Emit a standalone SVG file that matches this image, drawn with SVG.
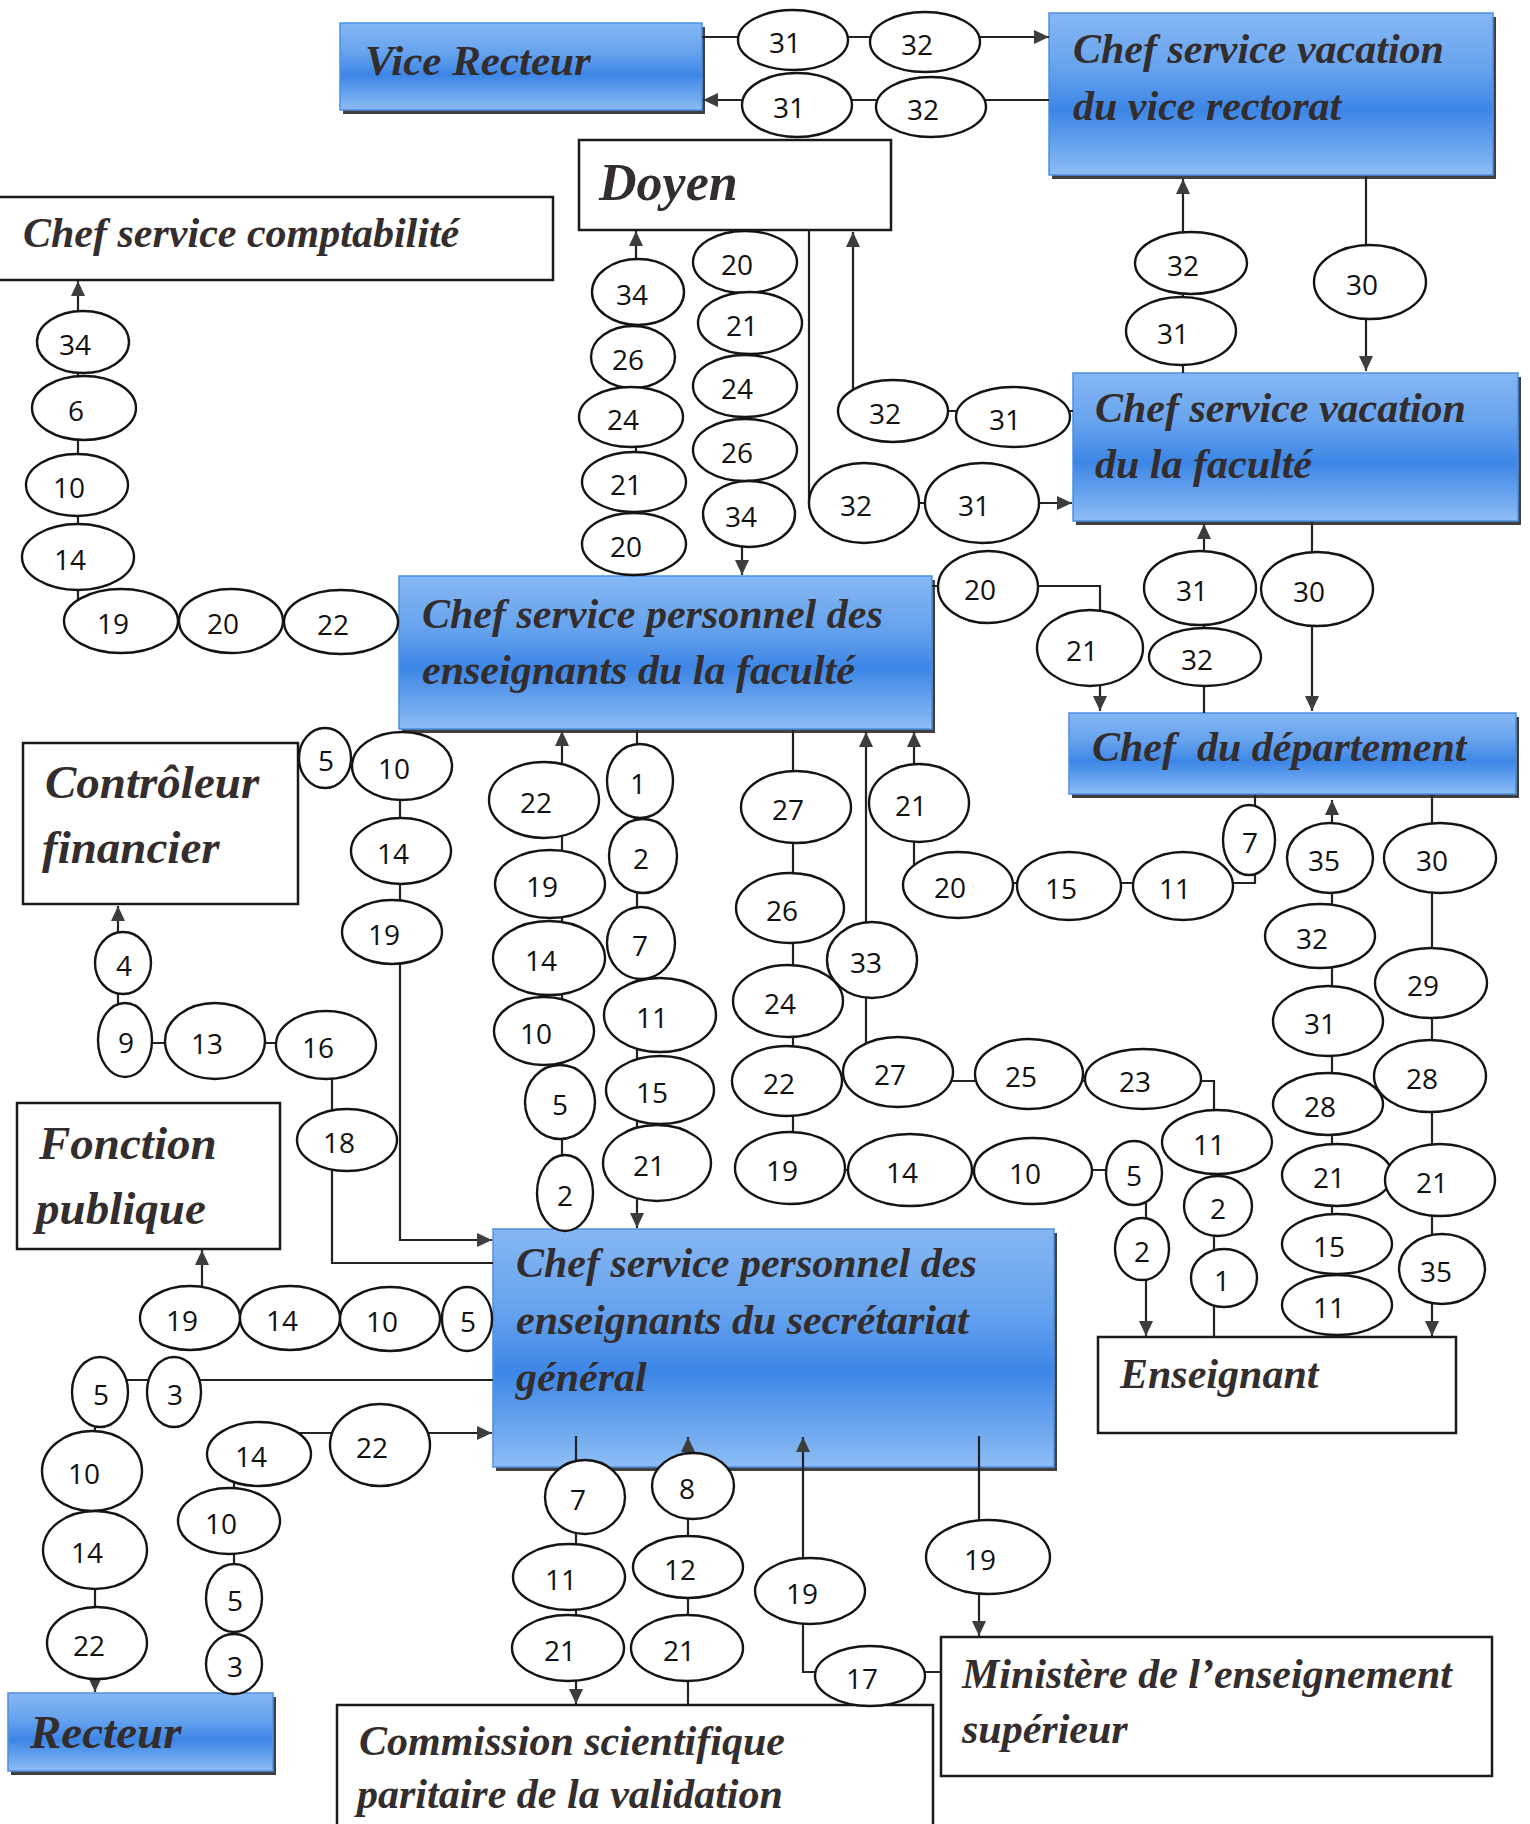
<svg xmlns="http://www.w3.org/2000/svg" width="1530" height="1824" viewBox="0 0 1530 1824">
<defs>
<linearGradient id="blue" x1="0" y1="0" x2="0" y2="1">
<stop offset="0" stop-color="#86b7f3"/>
<stop offset="0.35" stop-color="#65a2ee"/>
<stop offset="0.6" stop-color="#3d86e6"/>
<stop offset="0.85" stop-color="#6ea8ef"/>
<stop offset="1" stop-color="#8ebdf4"/>
</linearGradient>
<marker id="arr" markerUnits="userSpaceOnUse" markerWidth="16" markerHeight="16" refX="15" refY="7" orient="auto">
<path d="M0,0 L15,7 L0,14 z" fill="#3d3d3d"/>
</marker>
</defs>
<style>
.wb{fill:#fff;stroke:#1a1a1a;stroke-width:2.5}
.bb{fill:url(#blue);stroke:#4c8ee6;stroke-width:1.5}
.sh{fill:#404040}
.bt{font-family:"Liberation Serif","Times New Roman",serif;font-weight:bold;font-style:italic;fill:#332d2d;font-size:42px}
.c path{fill:none;stroke:#222;stroke-width:2.2}
.e ellipse{fill:#fff;stroke:#141414;stroke-width:2.4}
.e text{font-family:"Open Sans","Liberation Sans",sans-serif;font-size:28px;text-anchor:middle;fill:#111}
</style>
<rect width="1530" height="1824" fill="#fff"/>

<g id="vice-recteur"><rect class="sh" x="343" y="27" width="362" height="87"/><rect class="bb" x="340" y="23" width="362" height="87"/><text class="bt" x="365" y="75" style="font-size:43px">Vice Recteur</text></g>
<g id="vacation-vice-rectorat"><rect class="sh" x="1052" y="17" width="444" height="162"/><rect class="bb" x="1049" y="13" width="444" height="162"/><text class="bt" x="1073" y="63">Chef service vacation</text><text class="bt" x="1073" y="120">du vice rectorat</text></g>
<g id="doyen"><rect class="wb" x="579" y="140" width="312" height="90"/><text class="bt" x="599" y="200" style="font-size:52px">Doyen</text></g>
<g id="comptabilite"><rect class="wb" x="-5" y="197" width="558" height="83"/><text class="bt" x="23" y="247">Chef service comptabilité</text></g>
<g id="vacation-faculte"><rect class="sh" x="1076" y="377" width="445" height="148"/><rect class="bb" x="1073" y="373" width="445" height="148"/><text class="bt" x="1095" y="422">Chef service vacation</text><text class="bt" x="1095" y="478">du la faculté</text></g>
<g id="personnel-faculte"><rect class="sh" x="402" y="580" width="533" height="153"/><rect class="bb" x="399" y="576" width="533" height="153"/><text class="bt" x="422" y="628">Chef service personnel des</text><text class="bt" x="422" y="684">enseignants du la faculté</text></g>
<g id="departement"><rect class="sh" x="1072" y="717" width="447" height="81"/><rect class="bb" x="1069" y="713" width="447" height="81"/><text class="bt" x="1092" y="761" xml:space="preserve">Chef  du département</text></g>
<g id="controleur"><rect class="wb" x="23" y="743" width="275" height="161"/><text class="bt" x="45" y="798" style="font-size:47px">Contrôleur</text><text class="bt" x="42" y="863" style="font-size:47px">financier</text></g>
<g id="fonction-publique"><rect class="wb" x="17" y="1103" width="263" height="146"/><text class="bt" x="39" y="1159" style="font-size:47px">Fonction</text><text class="bt" x="36" y="1224" style="font-size:47px">publique</text></g>
<g id="secretariat"><rect class="sh" x="496" y="1233" width="561" height="238"/><rect class="bb" x="493" y="1229" width="561" height="238"/><text class="bt" x="516" y="1277">Chef service personnel des</text><text class="bt" x="516" y="1334">enseignants du secrétariat</text><text class="bt" x="516" y="1391">général</text></g>
<g id="enseignant"><rect class="wb" x="1098" y="1337" width="358" height="96"/><text class="bt" x="1120" y="1388">Enseignant</text></g>
<g id="recteur"><rect class="sh" x="11" y="1697" width="265" height="78"/><rect class="bb" x="8" y="1693" width="265" height="78"/><text class="bt" x="30" y="1748" style="font-size:47px">Recteur</text></g>
<g id="commission"><rect class="wb" x="337" y="1705" width="596" height="140"/><text class="bt" x="359" y="1755">Commission scientifique</text><text class="bt" x="357" y="1808">paritaire de la validation</text></g>
<g id="ministere"><rect class="wb" x="941" y="1637" width="551" height="139"/><text class="bt" x="962" y="1688">Ministère de l’enseignement</text><text class="bt" x="962" y="1743">supérieur</text></g>

<g id="connectors" class="c">
<path d="M702,37 H1049" marker-end="url(#arr)"/>
<path d="M1049,100 H703" marker-end="url(#arr)"/>
<path d="M78,612 V281" marker-end="url(#arr)"/>
<path d="M121,621 H399"/>
<path d="M636,576 V231" marker-end="url(#arr)"/>
<path d="M742,231 V575" marker-end="url(#arr)"/>
<path d="M809,231 V503 H1072" marker-end="url(#arr)"/>
<path d="M853,400 V232" marker-end="url(#arr)"/>
<path d="M893,411 H1073"/>
<path d="M1183,373 V179" marker-end="url(#arr)"/>
<path d="M1366,176 V371" marker-end="url(#arr)"/>
<path d="M1204,713 V524" marker-end="url(#arr)"/>
<path d="M1312,522 V711" marker-end="url(#arr)"/>
<path d="M932,586 H1100 V711" marker-end="url(#arr)"/>
<path d="M562,1229 V731" marker-end="url(#arr)"/>
<path d="M637,730 V1228" marker-end="url(#arr)"/>
<path d="M793,730 V1170 H1146 V1336" marker-end="url(#arr)"/>
<path d="M1214,1337 V1081 H866 V732" marker-end="url(#arr)"/>
<path d="M1255,795 V883 H914 V732" marker-end="url(#arr)"/>
<path d="M1332,1337 V800" marker-end="url(#arr)"/>
<path d="M1432,795 V1336" marker-end="url(#arr)"/>
<path d="M298,760 H400 V1240 H492" marker-end="url(#arr)"/>
<path d="M493,1263 H332 V1043 H118 V906" marker-end="url(#arr)"/>
<path d="M493,1319 H202 V1250" marker-end="url(#arr)"/>
<path d="M493,1380 H95 V1692" marker-end="url(#arr)"/>
<path d="M234,1693 V1433 H492" marker-end="url(#arr)"/>
<path d="M576,1436 V1704" marker-end="url(#arr)"/>
<path d="M688,1705 V1437" marker-end="url(#arr)"/>
<path d="M941,1672 H803 V1437" marker-end="url(#arr)"/>
<path d="M979,1436 V1636" marker-end="url(#arr)"/>
</g>

<g id="labels" class="e">
<g id="e1"><ellipse cx="793" cy="40" rx="55" ry="30"/><text x="785" y="53">31</text></g>
<g id="e2"><ellipse cx="925" cy="42" rx="55" ry="30"/><text x="917" y="55">32</text></g>
<g id="e3"><ellipse cx="797" cy="105" rx="55" ry="32"/><text x="789" y="118">31</text></g>
<g id="e4"><ellipse cx="931" cy="107" rx="55" ry="30"/><text x="923" y="120">32</text></g>
<g id="e5"><ellipse cx="83" cy="342" rx="46" ry="31"/><text x="75" y="355">34</text></g>
<g id="e6"><ellipse cx="84" cy="408" rx="52" ry="32"/><text x="76" y="421">6</text></g>
<g id="e7"><ellipse cx="77" cy="485" rx="51" ry="31"/><text x="69" y="498">10</text></g>
<g id="e8"><ellipse cx="78" cy="557" rx="56" ry="33"/><text x="70" y="570">14</text></g>
<g id="e9"><ellipse cx="121" cy="621" rx="57" ry="32"/><text x="113" y="634">19</text></g>
<g id="e10"><ellipse cx="231" cy="621" rx="52" ry="32"/><text x="223" y="634">20</text></g>
<g id="e11"><ellipse cx="341" cy="622" rx="57" ry="32"/><text x="333" y="635">22</text></g>
<g id="e12"><ellipse cx="638" cy="292" rx="46" ry="33"/><text x="632" y="305">34</text></g>
<g id="e13"><ellipse cx="633" cy="357" rx="42" ry="31"/><text x="628" y="370">26</text></g>
<g id="e14"><ellipse cx="631" cy="417" rx="52" ry="30"/><text x="623" y="430">24</text></g>
<g id="e15"><ellipse cx="634" cy="482" rx="52" ry="30"/><text x="626" y="495">21</text></g>
<g id="e16"><ellipse cx="634" cy="544" rx="52" ry="31"/><text x="626" y="557">20</text></g>
<g id="e17"><ellipse cx="745" cy="262" rx="52" ry="31"/><text x="737" y="275">20</text></g>
<g id="e18"><ellipse cx="750" cy="323" rx="52" ry="31"/><text x="742" y="336">21</text></g>
<g id="e19"><ellipse cx="745" cy="386" rx="52" ry="31"/><text x="737" y="399">24</text></g>
<g id="e20"><ellipse cx="745" cy="450" rx="52" ry="31"/><text x="737" y="463">26</text></g>
<g id="e21"><ellipse cx="749" cy="514" rx="46" ry="33"/><text x="741" y="527">34</text></g>
<g id="e22"><ellipse cx="864" cy="503" rx="55" ry="40"/><text x="856" y="516">32</text></g>
<g id="e23"><ellipse cx="982" cy="503" rx="57" ry="40"/><text x="974" y="516">31</text></g>
<g id="e24"><ellipse cx="893" cy="411" rx="55" ry="31"/><text x="885" y="424">32</text></g>
<g id="e25"><ellipse cx="1013" cy="417" rx="57" ry="30"/><text x="1005" y="430">31</text></g>
<g id="e26"><ellipse cx="1191" cy="263" rx="56" ry="31"/><text x="1183" y="276">32</text></g>
<g id="e27"><ellipse cx="1181" cy="331" rx="55" ry="34"/><text x="1173" y="344">31</text></g>
<g id="e28"><ellipse cx="1370" cy="282" rx="56" ry="37"/><text x="1362" y="295">30</text></g>
<g id="e29"><ellipse cx="1200" cy="588" rx="56" ry="37"/><text x="1192" y="601">31</text></g>
<g id="e30"><ellipse cx="1205" cy="657" rx="56" ry="29"/><text x="1197" y="670">32</text></g>
<g id="e31"><ellipse cx="1317" cy="589" rx="56" ry="37"/><text x="1309" y="602">30</text></g>
<g id="e32"><ellipse cx="988" cy="587" rx="50" ry="36"/><text x="980" y="600">20</text></g>
<g id="e33"><ellipse cx="1090" cy="648" rx="53" ry="38"/><text x="1082" y="661">21</text></g>
<g id="e34"><ellipse cx="544" cy="800" rx="55" ry="38"/><text x="536" y="813">22</text></g>
<g id="e35"><ellipse cx="550" cy="884" rx="55" ry="34"/><text x="542" y="897">19</text></g>
<g id="e36"><ellipse cx="549" cy="958" rx="56" ry="37"/><text x="541" y="971">14</text></g>
<g id="e37"><ellipse cx="544" cy="1031" rx="50" ry="34"/><text x="536" y="1044">10</text></g>
<g id="e38"><ellipse cx="560" cy="1102" rx="35" ry="37"/><text x="560" y="1115">5</text></g>
<g id="e39"><ellipse cx="565" cy="1193" rx="28" ry="38"/><text x="565" y="1206">2</text></g>
<g id="e40"><ellipse cx="640" cy="781" rx="33" ry="37"/><text x="638" y="794">1</text></g>
<g id="e41"><ellipse cx="643" cy="856" rx="34" ry="37"/><text x="641" y="869">2</text></g>
<g id="e42"><ellipse cx="641" cy="943" rx="34" ry="36"/><text x="640" y="956">7</text></g>
<g id="e43"><ellipse cx="660" cy="1015" rx="56" ry="37"/><text x="652" y="1028">11</text></g>
<g id="e44"><ellipse cx="660" cy="1090" rx="54" ry="34"/><text x="652" y="1103">15</text></g>
<g id="e45"><ellipse cx="657" cy="1163" rx="54" ry="38"/><text x="649" y="1176">21</text></g>
<g id="e46"><ellipse cx="796" cy="807" rx="55" ry="36"/><text x="788" y="820">27</text></g>
<g id="e47"><ellipse cx="790" cy="908" rx="54" ry="35"/><text x="782" y="921">26</text></g>
<g id="e48"><ellipse cx="788" cy="1001" rx="55" ry="36"/><text x="780" y="1014">24</text></g>
<g id="e49"><ellipse cx="787" cy="1081" rx="55" ry="35"/><text x="779" y="1094">22</text></g>
<g id="e50"><ellipse cx="790" cy="1168" rx="55" ry="36"/><text x="782" y="1181">19</text></g>
<g id="e51"><ellipse cx="910" cy="1170" rx="62" ry="36"/><text x="902" y="1183">14</text></g>
<g id="e52"><ellipse cx="1033" cy="1171" rx="59" ry="33"/><text x="1025" y="1184">10</text></g>
<g id="e53"><ellipse cx="1134" cy="1173" rx="28" ry="32"/><text x="1134" y="1186">5</text></g>
<g id="e54"><ellipse cx="1142" cy="1249" rx="27" ry="31"/><text x="1142" y="1262">2</text></g>
<g id="e55"><ellipse cx="872" cy="960" rx="45" ry="38"/><text x="866" y="973">33</text></g>
<g id="e56"><ellipse cx="898" cy="1072" rx="55" ry="35"/><text x="890" y="1085">27</text></g>
<g id="e57"><ellipse cx="1029" cy="1074" rx="54" ry="35"/><text x="1021" y="1087">25</text></g>
<g id="e58"><ellipse cx="1143" cy="1079" rx="58" ry="30"/><text x="1135" y="1092">23</text></g>
<g id="e59"><ellipse cx="1217" cy="1142" rx="55" ry="32"/><text x="1209" y="1155">11</text></g>
<g id="e60"><ellipse cx="1218" cy="1206" rx="34" ry="30"/><text x="1218" y="1219">2</text></g>
<g id="e61"><ellipse cx="1224" cy="1278" rx="33" ry="29"/><text x="1222" y="1291">1</text></g>
<g id="e62"><ellipse cx="919" cy="803" rx="50" ry="39"/><text x="911" y="816">21</text></g>
<g id="e63"><ellipse cx="958" cy="885" rx="55" ry="33"/><text x="950" y="898">20</text></g>
<g id="e64"><ellipse cx="1069" cy="886" rx="52" ry="34"/><text x="1061" y="899">15</text></g>
<g id="e65"><ellipse cx="1183" cy="886" rx="50" ry="34"/><text x="1175" y="899">11</text></g>
<g id="e66"><ellipse cx="1249" cy="840" rx="26" ry="35"/><text x="1250" y="853">7</text></g>
<g id="e67"><ellipse cx="1330" cy="858" rx="43" ry="35"/><text x="1324" y="871">35</text></g>
<g id="e68"><ellipse cx="1320" cy="936" rx="55" ry="32"/><text x="1312" y="949">32</text></g>
<g id="e69"><ellipse cx="1328" cy="1021" rx="55" ry="35"/><text x="1320" y="1034">31</text></g>
<g id="e70"><ellipse cx="1328" cy="1104" rx="55" ry="31"/><text x="1320" y="1117">28</text></g>
<g id="e71"><ellipse cx="1337" cy="1175" rx="55" ry="31"/><text x="1329" y="1188">21</text></g>
<g id="e72"><ellipse cx="1337" cy="1244" rx="55" ry="30"/><text x="1329" y="1257">15</text></g>
<g id="e73"><ellipse cx="1337" cy="1305" rx="55" ry="30"/><text x="1329" y="1318">11</text></g>
<g id="e74"><ellipse cx="1440" cy="858" rx="56" ry="35"/><text x="1432" y="871">30</text></g>
<g id="e75"><ellipse cx="1431" cy="983" rx="56" ry="35"/><text x="1423" y="996">29</text></g>
<g id="e76"><ellipse cx="1430" cy="1076" rx="56" ry="36"/><text x="1422" y="1089">28</text></g>
<g id="e77"><ellipse cx="1440" cy="1180" rx="55" ry="36"/><text x="1432" y="1193">21</text></g>
<g id="e78"><ellipse cx="1442" cy="1269" rx="43" ry="35"/><text x="1436" y="1282">35</text></g>
<g id="e79"><ellipse cx="325" cy="758" rx="26" ry="30"/><text x="326" y="771">5</text></g>
<g id="e80"><ellipse cx="402" cy="766" rx="50" ry="34"/><text x="394" y="779">10</text></g>
<g id="e81"><ellipse cx="401" cy="851" rx="50" ry="33"/><text x="393" y="864">14</text></g>
<g id="e82"><ellipse cx="392" cy="932" rx="50" ry="32"/><text x="384" y="945">19</text></g>
<g id="e83"><ellipse cx="123" cy="963" rx="28" ry="31"/><text x="124" y="976">4</text></g>
<g id="e84"><ellipse cx="125" cy="1040" rx="27" ry="37"/><text x="126" y="1053">9</text></g>
<g id="e85"><ellipse cx="215" cy="1041" rx="50" ry="38"/><text x="207" y="1054">13</text></g>
<g id="e86"><ellipse cx="326" cy="1045" rx="50" ry="34"/><text x="318" y="1058">16</text></g>
<g id="e87"><ellipse cx="347" cy="1140" rx="50" ry="31"/><text x="339" y="1153">18</text></g>
<g id="e88"><ellipse cx="190" cy="1318" rx="50" ry="32"/><text x="182" y="1331">19</text></g>
<g id="e89"><ellipse cx="290" cy="1318" rx="50" ry="32"/><text x="282" y="1331">14</text></g>
<g id="e90"><ellipse cx="390" cy="1319" rx="50" ry="32"/><text x="382" y="1332">10</text></g>
<g id="e91"><ellipse cx="467" cy="1319" rx="25" ry="32"/><text x="468" y="1332">5</text></g>
<g id="e92"><ellipse cx="174" cy="1392" rx="27" ry="35"/><text x="175" y="1405">3</text></g>
<g id="e93"><ellipse cx="100" cy="1392" rx="28" ry="35"/><text x="101" y="1405">5</text></g>
<g id="e94"><ellipse cx="92" cy="1471" rx="50" ry="40"/><text x="84" y="1484">10</text></g>
<g id="e95"><ellipse cx="95" cy="1550" rx="52" ry="39"/><text x="87" y="1563">14</text></g>
<g id="e96"><ellipse cx="97" cy="1643" rx="50" ry="36"/><text x="89" y="1656">22</text></g>
<g id="e97"><ellipse cx="234" cy="1664" rx="28" ry="30"/><text x="235" y="1677">3</text></g>
<g id="e98"><ellipse cx="234" cy="1598" rx="28" ry="34"/><text x="235" y="1611">5</text></g>
<g id="e99"><ellipse cx="229" cy="1521" rx="51" ry="33"/><text x="221" y="1534">10</text></g>
<g id="e100"><ellipse cx="259" cy="1454" rx="52" ry="32"/><text x="251" y="1467">14</text></g>
<g id="e101"><ellipse cx="380" cy="1445" rx="50" ry="41"/><text x="372" y="1458">22</text></g>
<g id="e102"><ellipse cx="585" cy="1497" rx="40" ry="37"/><text x="578" y="1510">7</text></g>
<g id="e103"><ellipse cx="569" cy="1577" rx="56" ry="33"/><text x="561" y="1590">11</text></g>
<g id="e104"><ellipse cx="568" cy="1648" rx="56" ry="33"/><text x="560" y="1661">21</text></g>
<g id="e105"><ellipse cx="687" cy="1648" rx="56" ry="33"/><text x="679" y="1661">21</text></g>
<g id="e106"><ellipse cx="688" cy="1567" rx="55" ry="31"/><text x="680" y="1580">12</text></g>
<g id="e107"><ellipse cx="693" cy="1486" rx="41" ry="33"/><text x="687" y="1499">8</text></g>
<g id="e108"><ellipse cx="870" cy="1676" rx="55" ry="30"/><text x="862" y="1689">17</text></g>
<g id="e109"><ellipse cx="810" cy="1591" rx="55" ry="33"/><text x="802" y="1604">19</text></g>
<g id="e110"><ellipse cx="988" cy="1557" rx="62" ry="37"/><text x="980" y="1570">19</text></g>
</g>
</svg>
